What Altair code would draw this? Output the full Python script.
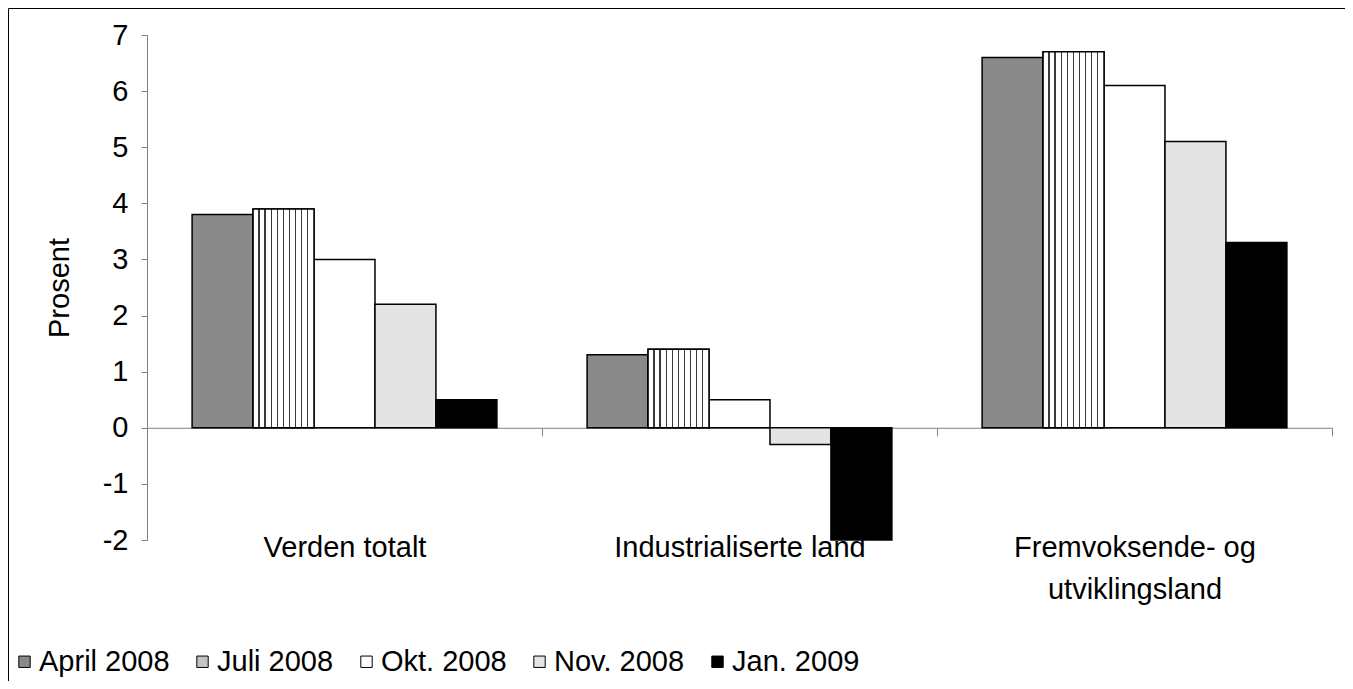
import altair as alt
import pandas as pd

categories = ["Verden totalt", "Industrialiserte land", "Fremvoksende- og|utviklingsland"]
series = ["April 2008", "Juli 2008", "Okt. 2008", "Nov. 2008", "Jan. 2009"]
verden = [3.8, 3.9, 3.0, 2.2, 0.5]
industri = [1.3, 1.4, 0.5, -0.3, -2.0]
fremvoks = [6.6, 6.7, 6.1, 5.1, 3.3]
y_ticks = [-2, -1, 0, 1, 2, 3, 4, 5, 6, 7]
y_domain = [-2, 7]

rows = []
for cat, vals in zip(categories, [verden, industri, fremvoks]):
    for s, v in zip(series, vals):
        rows.append({"Region": cat, "Serie": s, "Prosent": v})
df = pd.DataFrame(rows)

FONT = "Liberation Sans"
FS = 29
W, H = 1185, 505
zero_offset = -H * (0 - y_domain[0]) / (y_domain[1] - y_domain[0])

fills = ["#8a8a8a", "#c4c4c4", "#ffffff", "#e4e4e4", "#000000"]

# vertical stripe gradient for "Juli 2008"
stripe_pos = [0.096, 0.197, 0.298, 0.399, 0.494, 0.596, 0.691, 0.792, 0.888]
stops = [alt.GradientStop(color="white", offset=0)]
for p in stripe_pos:
    a, b = p - 0.011, p + 0.011
    stops += [alt.GradientStop(color="white", offset=a),
              alt.GradientStop(color="#3a3a3a", offset=a),
              alt.GradientStop(color="#3a3a3a", offset=b),
              alt.GradientStop(color="white", offset=b)]
stops.append(alt.GradientStop(color="white", offset=1))
stripes = alt.LinearGradient(gradient="linear", stops=stops, x1=0, x2=1, y1=0, y2=0)

x_enc = alt.X(
    "Region:N", sort=categories,
    scale=alt.Scale(domain=categories, paddingInner=0, paddingOuter=0),
    axis=alt.Axis(
        title=None, orient="bottom", offset=zero_offset,
        domainColor="#808080", domainWidth=1,
        tickBand="extent", tickSize=8, tickColor="#808080",
        labelAngle=0, labelPadding=98, labelFont=FONT, labelFontSize=FS,
        labelColor="black", labelLimit=600, labelLineHeight=42,
        labelExpr="split(datum.label, '|')",
    ),
)
y_enc = alt.Y(
    "Prosent:Q",
    scale=alt.Scale(domain=y_domain, nice=False, zero=False),
    axis=alt.Axis(
        values=y_ticks, title="Prosent", grid=False,
        domainColor="#808080", tickColor="#808080", tickSize=6,
        labelPadding=13, labelFont=FONT, labelFontSize=FS, labelColor="black",
        labelExpr="'' + datum.value",
        titleFont=FONT, titleFontSize=FS, titleFontWeight="normal",
        titleColor="black", titlePadding=28,
    ),
)
xoff = alt.XOffset("Serie:N", sort=series,
                   scale=alt.Scale(domain=series, paddingInner=0, paddingOuter=0.74))

bars = alt.Chart(df).mark_bar(stroke="black", strokeWidth=1.5).encode(
    x=x_enc, y=y_enc, xOffset=xoff,
    color=alt.Color(
        "Serie:N", sort=series,
        scale=alt.Scale(domain=series, range=fills),
        legend=alt.Legend(
            title=None, orient="none", legendX=-137, legendY=612,
            direction="horizontal", columns=5, symbolType="square",
            symbolSize=130, symbolStrokeColor="black", symbolStrokeWidth=1,
            labelFont=FONT, labelFontSize=FS, labelColor="black",
            labelOffset=0, columnPadding=18, labelLimit=400,
        ),
    ),
)

juli = alt.Chart(df).transform_filter(alt.datum.Serie == "Juli 2008").mark_bar(
    fill=stripes, stroke="black", strokeWidth=1.5
).encode(x=x_enc, y=y_enc, xOffset=xoff)

border = alt.Chart(alt.Data(values=[{"a": 1}])).mark_rect(
    filled=False, stroke="black", strokeWidth=1
).encode(x=alt.value(-138.5), x2=alt.value(3000), y=alt.value(-26.5), y2=alt.value(3000))

chart = alt.layer(border, bars, juli).properties(
    width=W, height=H,
    autosize=alt.AutoSizeParams(type="none"),
    padding={"left": 139, "top": 27, "right": 13, "bottom": 141},
    background="white",
).configure_view(strokeWidth=0)

chart.save("out.html", embed_options={"renderer": "svg", "actions": False})
